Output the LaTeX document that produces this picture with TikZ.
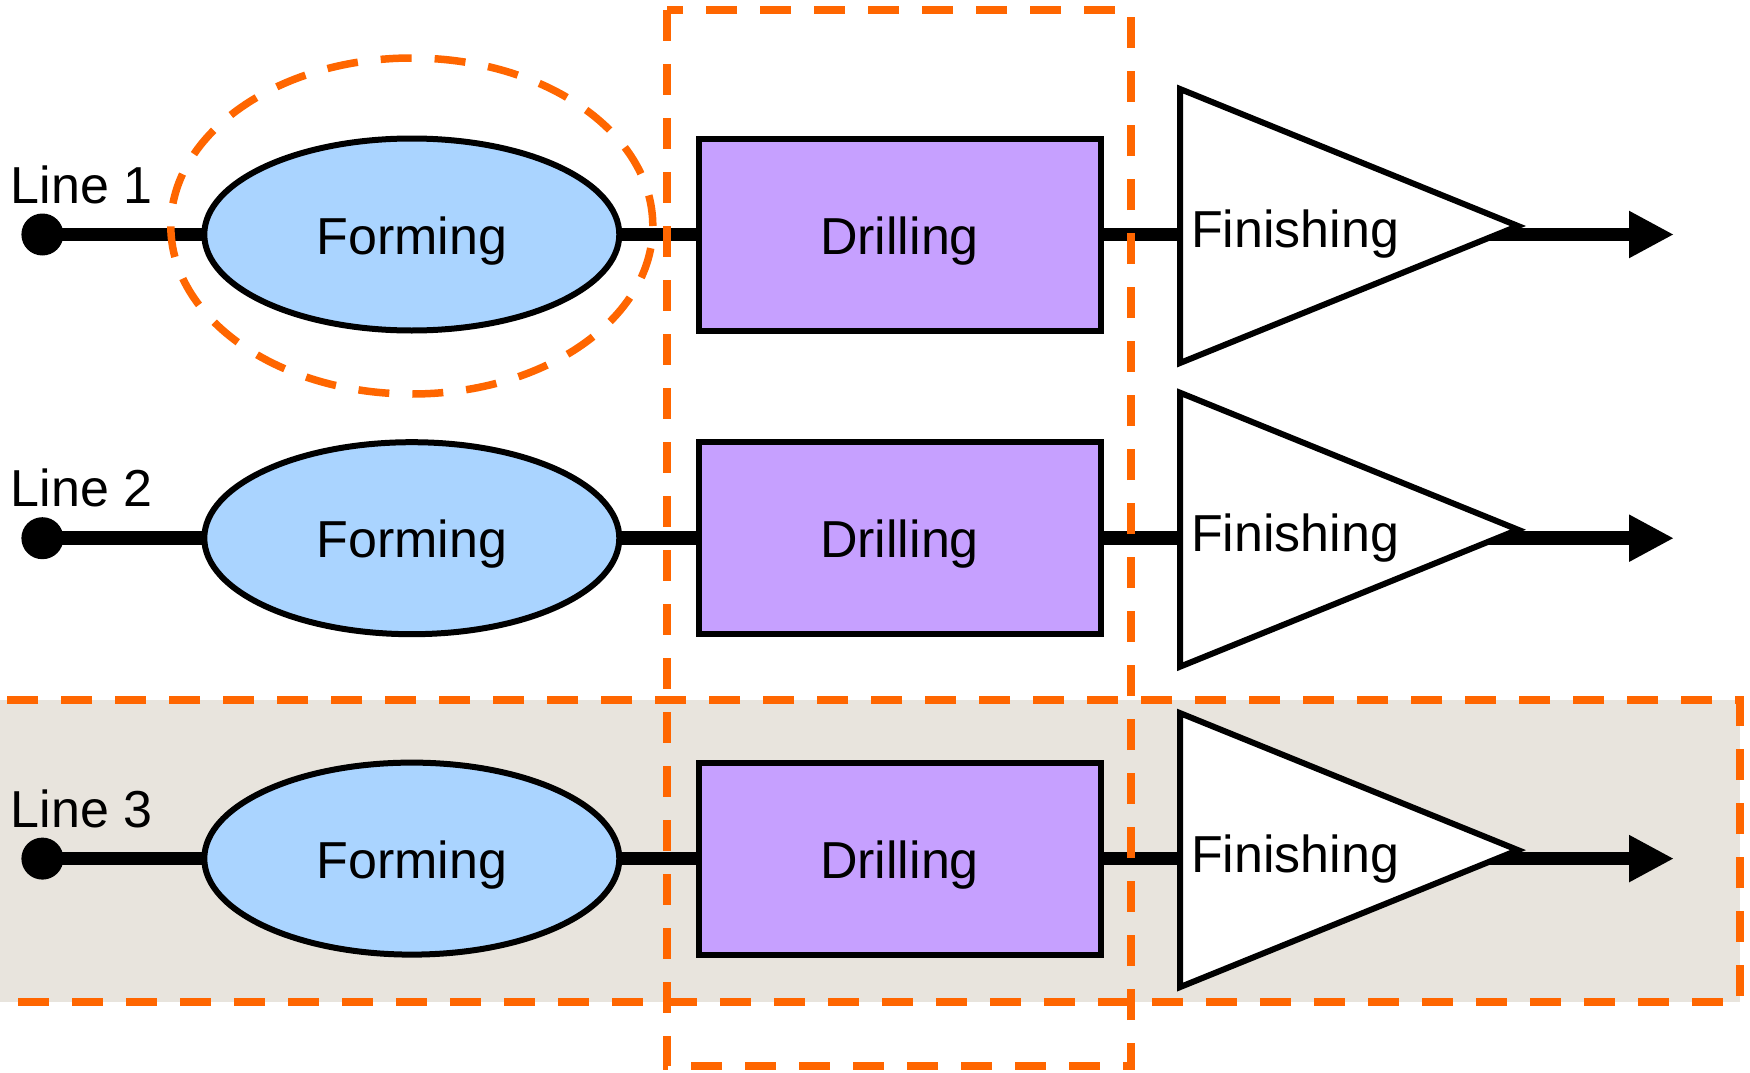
\documentclass[tikz,border=0pt]{standalone}
\usepackage{fontspec}
\setmainfont{Liberation Sans}
\usetikzlibrary{shapes.geometric,arrows.meta}
\definecolor{hilite}{RGB}{255,102,0}
\definecolor{bandgray}{RGB}{232,228,221}
\definecolor{formblue}{RGB}{170,212,255}
\definecolor{drillpurple}{RGB}{198,160,255}
\pgfdeclarelayer{band}
\pgfdeclarelayer{wires}
\pgfdeclarelayer{marks}
\pgfsetlayers{band,wires,main,marks}

\begin{document}
\begin{tikzpicture}[x=1pt,y=-1pt,
  every node/.style={font=\fontsize{52}{60}\selectfont},
  formnode/.style={ellipse, draw, line width=6pt, fill=formblue,
    minimum width=415pt, minimum height=192pt, inner sep=0pt,
    text height=39pt, text depth=0pt},
  drillnode/.style={rectangle, draw, line width=6pt, fill=drillpurple,
    minimum width=402pt, minimum height=192pt, inner sep=0pt,
    text height=39pt, text depth=0pt},
  startdot/.style={circle, fill=black, minimum size=42pt, inner sep=0pt},
  wire/.style={line width=13.5pt},
  outarrow/.style={wire, -{Triangle[length=45pt,width=44pt]}},
  finishshape/.style={draw, line width=6pt, fill=white, line join=miter},
  hl/.style={draw=hilite, line width=7.5pt, dash pattern=on 31pt off 23pt},
  plainlabel/.style={inner sep=0pt, anchor=base west}
]
\useasboundingbox (0,0) rectangle (1750,1073);

% shaded band behind the third line
\begin{pgfonlayer}{band}
  \fill[white] (0,0) rectangle (1750,1073);
  \fill[bandgray] (-4,700) rectangle (1740,1002);
\end{pgfonlayer}

% the three production lines
\foreach \i/\y in {1/234.5, 2/538.2, 3/858.6}{
  \node[startdot] (dot\i) at (42.4,\y) {};
  \node[plainlabel] (lbl\i) at (10.5,{\y-31.5}) {Line \i};
  \node[formnode] (form\i) at (411.8,\y) {Forming};
  \node[drillnode] (drill\i) at (899.5,\y) {Drilling};
  \coordinate (fin\i w) at (1180,\y);
  \coordinate (end\i) at (1674,\y);
  \draw[finishshape] (1180,{\y-145.5}) -- (1518,{\y-8.5}) -- (1180,{\y+128.5}) -- cycle;
  \node[plainlabel] (finlbl\i) at (1191,{\y+13.4}) {Finishing};
  \begin{pgfonlayer}{wires}
    \draw[wire] (dot\i.center) -- (form\i.center);
    \draw[wire] (form\i.center) -- (drill\i.center);
    \draw[wire] (drill\i.center) -- (fin\i w);
    \draw[outarrow] (fin\i w) -- (end\i);
  \end{pgfonlayer}
}

% dashed highlights
\begin{pgfonlayer}{marks}
  \node[ellipse, hl, minimum width=482pt, minimum height=336pt, inner sep=0pt]
    (hlform) at (411.8,226) {};
  \draw[hl] (667,10) rectangle (1131,1066);
  \draw[hl] (-4,700) rectangle (1740,1002);
\end{pgfonlayer}
\end{tikzpicture}
\end{document}
